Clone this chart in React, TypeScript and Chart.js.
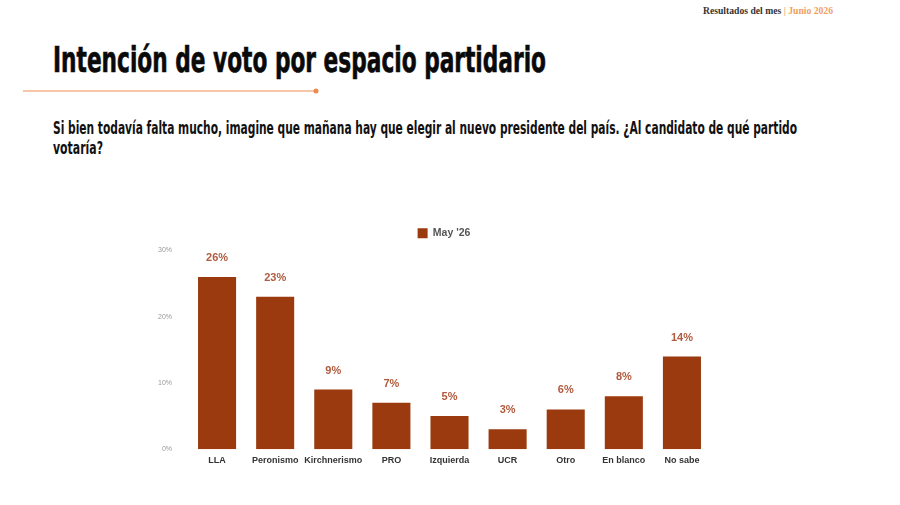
import React, { useEffect, useRef } from "react";
import { Chart, registerables } from "chart.js";

Chart.register(...registerables);

const categories = ["LLA", "Peronismo", "Kirchnerismo", "PRO", "Izquierda", "UCR", "Otro", "En blanco", "No sabe"];
const seriesName = "May '26";
const values = [26, 23, 9, 7, 5, 3, 6, 8, 14];
const yTicks = [0, 10, 20, 30];

const BAR = "#9b3a0e";
const LABEL = "#b05a3e";
const FONT = "'Liberation Sans', Arial, sans-serif";
const NARROW = "'Liberation Sans Narrow', 'DejaVu Sans Condensed', sans-serif";

const valueLabels = {
  id: "valueLabels",
  afterDatasetsDraw(chart: any) {
    const ctx = chart.ctx;
    const meta = chart.getDatasetMeta(0);
    ctx.save();
    ctx.font = `bold 11px ${FONT}`;
    ctx.fillStyle = LABEL;
    ctx.textAlign = "center";
    ctx.textBaseline = "middle";
    meta.data.forEach((el: any, i: number) => {
      ctx.fillText(values[i] + "%", el.x, el.y - 19);
    });
    ctx.restore();
  },
};

const shiftLegend = {
  id: "shiftLegend",
  afterLayout(chart: any) {
    const lg = chart.legend;
    if (lg) {
      lg.left += 37;
      lg.top -= 2;
      lg.bottom -= 2;
    }
  },
};

function BarChart() {
  const ref = useRef<HTMLCanvasElement | null>(null);
  useEffect(() => {
    if (!ref.current) return;
    const chart = new Chart(ref.current, {
      type: "bar",
      data: {
        labels: categories,
        datasets: [
          {
            label: seriesName,
            data: values,
            backgroundColor: BAR,
            borderWidth: 0,
            barPercentage: 0.655,
            categoryPercentage: 1,
          },
        ],
      },
      options: {
        animation: false,
        responsive: false,
        maintainAspectRatio: false,
        layout: { padding: { left: 0, right: 29, top: 10, bottom: 8 } },
        plugins: {
          legend: {
            display: true,
            position: "top",
            labels: {
              boxWidth: 10,
              boxHeight: 10,
              color: "#555",
              font: { family: FONT, size: 10.5, weight: "bold" },
              padding: 10,
            },
          },
          tooltip: { enabled: false },
        },
        scales: {
          x: {
            grid: { display: false, drawTicks: false },
            border: { display: false },
            ticks: {
              color: "#333",
              font: { family: FONT, size: 9, weight: "bold" },
              padding: 6,
              maxRotation: 0,
              autoSkip: false,
            },
          },
          y: {
            min: 0,
            max: 30,
            afterBuildTicks: (scale: any) => {
              scale.ticks = yTicks.map((v) => ({ value: v }));
            },
            afterFit: (scale: any) => {
              scale.width = 48;
            },
            grid: { display: false, drawTicks: false },
            border: { display: false },
            ticks: {
              color: "#999",
              font: { family: FONT, size: 7 },
              padding: 16,
              callback: (v: any) => v + "%",
            },
          },
        },
      },
      plugins: [valueLabels, shiftLegend],
    });
    return () => chart.destroy();
  }, []);
  return (
    <canvas
      ref={ref}
      width={600}
      height={270}
      style={{ position: "absolute", left: 140, top: 210, width: 600, height: 270 }}
    />
  );
}

export default function App() {
  return (
    <div
      style={{
        position: "fixed",
        left: 0,
        top: 0,
        width: 900,
        height: 505,
        background: "#ffffff",
        overflow: "hidden",
      }}
    >
      <svg width={900} height={210} style={{ position: "absolute", left: 0, top: 0 }}>
        <text
          x={703}
          y={14}
          fontFamily="'Liberation Serif', 'DejaVu Serif', serif"
          fontWeight="bold"
          fontSize={9.5}
          textLength={130}
          lengthAdjust="spacingAndGlyphs"
          fill="#333"
        >
          Resultados del mes <tspan fill="#e9a77a">|</tspan> <tspan fill="#f0a060">Junio 2026</tspan>
        </text>
        <text
          x={53}
          y={72}
          fontFamily={NARROW}
          fontWeight="bold"
          fontSize={36}
          textLength={493}
          lengthAdjust="spacingAndGlyphs"
          fill="#0a0a0a"
          stroke="#0a0a0a"
          strokeWidth={0.6}
        >
          Intención de voto por espacio partidario
        </text>
        <line x1={23} y1={91} x2={316} y2={91} stroke="#f2b38a" strokeWidth={1.5} />
        <circle cx={316} cy={91} r={2.5} fill="#ec8a4f" />
        <text
          x={53}
          y={134}
          fontFamily={NARROW}
          fontWeight="bold"
          fontSize={17}
          textLength={744}
          lengthAdjust="spacingAndGlyphs"
          fill="#111"
        >
          Si bien todavía falta mucho, imagine que mañana hay que elegir al nuevo presidente del país. ¿Al candidato de qué partido
        </text>
        <text
          x={53}
          y={154}
          fontFamily={NARROW}
          fontWeight="bold"
          fontSize={17}
          textLength={50}
          lengthAdjust="spacingAndGlyphs"
          fill="#111"
        >
          votaría?
        </text>
      </svg>
      <BarChart />
    </div>
  );
}
